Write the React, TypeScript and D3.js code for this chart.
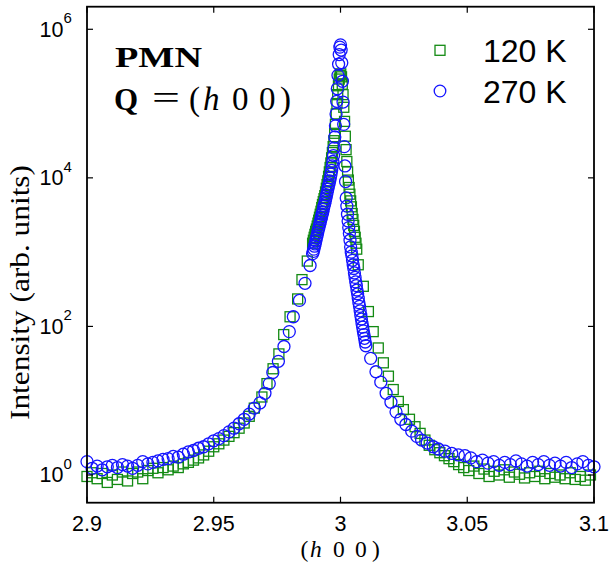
import React from 'react';
import * as d3 from 'd3';

// x tick values / labels
const xTicks = [2.9, 2.95, 3, 3.05, 3.1];
const xTickLabels = ['2.9', '2.95', '3', '3.05', '3.1'];
// y decades shown on the log axis
const yTickExps = [0, 2, 4, 6];
const legendLabels = ['120 K', '270 K'];

// [h, log10(intensity)] — 120 K (green squares)
const data120: [number, number][] = [
  [2.900, -0.02], [2.902, 0.03], [2.904, -0.05], [2.906, 0.02], [2.908, -0.10], [2.910, 0.00],
  [2.912, -0.06], [2.914, 0.04], [2.916, -0.08], [2.918, 0.02], [2.920, 0.04], [2.922, -0.05],
  [2.924, 0.06], [2.926, 0.09], [2.928, 0.03], [2.930, 0.10], [2.932, 0.07], [2.934, 0.12],
  [2.936, 0.10], [2.938, 0.15], [2.940, 0.17], [2.942, 0.20], [2.944, 0.23], [2.946, 0.27],
  [2.948, 0.32], [2.950, 0.38], [2.952, 0.42], [2.954, 0.47], [2.956, 0.52], [2.958, 0.57],
  [2.960, 0.63], [2.962, 0.70], [2.964, 0.79], [2.966, 0.90],
  [2.9690, 1.05], [2.9710, 1.23], [2.9734, 1.43], [2.9757, 1.63], [2.9776, 1.89], [2.9801, 2.13],
  [2.9831, 2.37], [2.9848, 2.63], [2.9869, 2.88],
  [2.9890, 3.12], [2.9893, 3.16], [2.9896, 3.20], [2.9899, 3.24], [2.9902, 3.28], [2.9905, 3.31],
  [2.9908, 3.35], [2.9911, 3.39], [2.9914, 3.43], [2.9917, 3.47], [2.9920, 3.51], [2.9923, 3.55],
  [2.9926, 3.60], [2.9929, 3.64], [2.9932, 3.68], [2.9935, 3.72], [2.9938, 3.76], [2.9941, 3.81],
  [2.9944, 3.86], [2.9947, 3.91], [2.9950, 3.96], [2.9953, 4.02], [2.9956, 4.08], [2.9959, 4.14],
  [2.9962, 4.20], [2.9965, 4.27], [2.9968, 4.34], [2.9971, 4.42], [2.9974, 4.50], [2.9977, 4.60],
  [2.9980, 4.72], [2.9983, 4.86], [2.9986, 5.00], [2.9989, 5.12], [2.9992, 5.24], [2.9995, 5.33],
  [2.9998, 5.38], [3.0001, 5.40], [3.0004, 5.36], [3.0007, 5.26], [3.0010, 5.12], [3.0013, 4.95],
  [3.0016, 4.76], [3.0019, 4.56], [3.0022, 4.38], [3.0025, 4.22], [3.0028, 4.08], [3.0031, 3.97],
  [3.0034, 3.87], [3.0037, 3.78], [3.0040, 3.69], [3.0043, 3.61], [3.0046, 3.52], [3.0049, 3.44],
  [3.0052, 3.36], [3.0055, 3.28], [3.0058, 3.20], [3.0061, 3.12], [3.0064, 3.04],
  [3.0070, 2.83], [3.0090, 2.54], [3.0110, 2.20], [3.0129, 1.93], [3.0149, 1.71], [3.0169, 1.51],
  [3.0189, 1.33], [3.0208, 1.15], [3.0228, 0.99], [3.0248, 0.88], [3.0272, 0.75], [3.0294, 0.65],
  [3.0314, 0.56], [3.0333, 0.47], [3.0350, 0.40], [3.0372, 0.34], [3.0392, 0.30], [3.0410, 0.26],
  [3.0428, 0.22], [3.0447, 0.18], [3.0466, 0.14], [3.0486, 0.10], [3.0506, 0.06], [3.0526, 0.12],
  [3.0546, 0.02], [3.0566, 0.08], [3.0586, -0.02], [3.0606, 0.05], [3.0626, 0.00], [3.0646, 0.07],
  [3.0666, -0.03], [3.0686, 0.04], [3.0706, 0.01], [3.0726, -0.04], [3.0746, 0.03], [3.0766, -0.02],
  [3.0786, 0.05], [3.0806, -0.05], [3.0826, 0.02], [3.0846, -0.03], [3.0866, 0.00], [3.0886, -0.05],
  [3.0906, 0.03], [3.0926, -0.06], [3.0946, -0.02], [3.0966, -0.07], [3.0986, 0.00],
];

// [h, log10(intensity)] — 270 K (blue circles)
const data270: [number, number][] = [
  [2.900, 0.18], [2.902, 0.09], [2.904, 0.12], [2.906, 0.07], [2.908, 0.11], [2.910, 0.13],
  [2.912, 0.10], [2.914, 0.14], [2.916, 0.12], [2.918, 0.09], [2.920, 0.13], [2.922, 0.18],
  [2.924, 0.15], [2.926, 0.17], [2.928, 0.19], [2.930, 0.21], [2.932, 0.22], [2.934, 0.25],
  [2.936, 0.24], [2.938, 0.28], [2.940, 0.31], [2.942, 0.33], [2.944, 0.36], [2.946, 0.38],
  [2.948, 0.42], [2.950, 0.46], [2.952, 0.49], [2.954, 0.53], [2.956, 0.58], [2.958, 0.63],
  [2.960, 0.69], [2.962, 0.75], [2.964, 0.82], [2.966, 0.90],
  [2.9682, 0.97], [2.9702, 1.10], [2.9719, 1.23], [2.9733, 1.38], [2.9755, 1.53], [2.9777, 1.73],
  [2.9798, 1.93], [2.9814, 2.13], [2.9838, 2.35], [2.9860, 2.58], [2.9880, 2.82],
  [2.98900, 2.98], [2.98925, 3.01], [2.98950, 3.04], [2.98975, 3.08], [2.99000, 3.11], [2.99025, 3.15],
  [2.99050, 3.19], [2.99075, 3.22], [2.99100, 3.26], [2.99125, 3.30], [2.99150, 3.33], [2.99175, 3.37],
  [2.99200, 3.40], [2.99225, 3.44], [2.99250, 3.47], [2.99275, 3.51], [2.99300, 3.54], [2.99325, 3.58],
  [2.99350, 3.62], [2.99375, 3.65], [2.99400, 3.69], [2.99425, 3.73], [2.99450, 3.77], [2.99475, 3.81],
  [2.99500, 3.85], [2.99525, 3.89], [2.99550, 3.92], [2.99575, 3.96], [2.99600, 4.00], [2.99625, 4.05],
  [2.99650, 4.10], [2.99675, 4.16], [2.99700, 4.22], [2.99725, 4.30], [2.99750, 4.40], [2.99775, 4.55],
  [2.99800, 4.70], [2.99825, 4.86], [2.99850, 5.03], [2.99875, 5.20], [2.99900, 5.38], [2.99925, 5.53],
  [2.99950, 5.66], [2.99975, 5.76], [3.00000, 5.79], [3.00025, 5.72], [3.00050, 5.55], [3.00075, 5.30],
  [3.00100, 5.02], [3.00125, 4.72], [3.00150, 4.42], [3.00175, 4.16], [3.00200, 3.95],
  [3.00225, 3.73], [3.00250, 3.62], [3.00275, 3.51], [3.00300, 3.42], [3.00325, 3.33], [3.00350, 3.25],
  [3.00375, 3.16], [3.00400, 3.07], [3.00425, 3.00], [3.00450, 2.95], [3.00475, 2.89], [3.00500, 2.83],
  [3.00525, 2.78], [3.00550, 2.72], [3.00575, 2.66], [3.00600, 2.60], [3.00625, 2.55], [3.00650, 2.49],
  [3.00675, 2.44], [3.00700, 2.38], [3.00725, 2.32], [3.00750, 2.27], [3.00775, 2.21], [3.00800, 2.15],
  [3.00825, 2.10], [3.00850, 2.04], [3.00875, 1.99], [3.00900, 1.94], [3.00925, 1.89], [3.00950, 1.84],
  [3.00975, 1.79], [3.01000, 1.74],
  [3.0119, 1.57], [3.0140, 1.39], [3.0159, 1.25], [3.0180, 1.10], [3.0199, 0.98], [3.0219, 0.85],
  [3.0238, 0.75], [3.0258, 0.68], [3.0281, 0.59], [3.0301, 0.52], [3.0320, 0.47], [3.0342, 0.43],
  [3.0366, 0.38], [3.0386, 0.35], [3.0412, 0.32], [3.0439, 0.29], [3.0465, 0.27], [3.0491, 0.26],
  [3.0514, 0.23], [3.0537, 0.18],
  [3.0560, 0.20], [3.0582, 0.16], [3.0604, 0.18], [3.0626, 0.13], [3.0648, 0.17], [3.0670, 0.14],
  [3.0692, 0.19], [3.0714, 0.15], [3.0736, 0.12], [3.0758, 0.17], [3.0780, 0.14], [3.0802, 0.18],
  [3.0824, 0.13], [3.0846, 0.16], [3.0868, 0.12], [3.0890, 0.17], [3.0912, 0.10], [3.0934, 0.15],
  [3.0956, 0.18], [3.0978, 0.13], [3.1000, 0.11],
];

const GREEN = '#138a13';
const BLUE = '#1414ff';

export default function App() {
  const W = 609, H = 568;
  const left = 87, right = 594, top = 6.7, bottom = 502.7;
  const x = d3.scaleLinear().domain([2.9, 3.1]).range([left, right]);
  const y = d3.scaleLog().domain([Math.pow(10, -0.373), Math.pow(10, 6.304)]).range([bottom, top]);
  const sq = 10;
  const r = 6;
  const tickLen = 6;
  const sans = '"Liberation Sans", Arial, sans-serif';
  const serif = '"Liberation Serif", "Times New Roman", serif';

  return (
    <svg width={W} height={H} style={{ position: 'absolute', left: 0, top: 0, background: '#fff' }}>
      <rect x={0} y={0} width={W} height={H} fill="#fff" />
      {/* data */}
      <g fill="none" stroke={GREEN} strokeWidth={1.3}>
        {data120.map(([h, l], i) => (
          <rect key={i} x={x(h) - sq / 2} y={y(Math.pow(10, l)) - sq / 2} width={sq} height={sq} />
        ))}
      </g>
      <g fill="none" stroke={BLUE} strokeWidth={1.3}>
        {data270.map(([h, l], i) => (
          <circle key={i} cx={x(h)} cy={y(Math.pow(10, l))} r={r} />
        ))}
      </g>
      {/* frame */}
      <rect x={left} y={top} width={right - left} height={bottom - top} fill="none" stroke="#000" strokeWidth={1.8} />
      {/* x ticks */}
      {xTicks.map((t, i) => (
        <g key={'xt' + i}>
          <line x1={x(t)} x2={x(t)} y1={bottom} y2={bottom - tickLen} stroke="#000" strokeWidth={1.2} />
          <line x1={x(t)} x2={x(t)} y1={top} y2={top + tickLen} stroke="#000" strokeWidth={1.2} />
          <text x={x(t)} y={531} textAnchor="middle" fontFamily={sans} fontSize={21.5} fill="#000">
            {xTickLabels[i]}
          </text>
        </g>
      ))}
      {/* y ticks */}
      {yTickExps.map((e, i) => {
        const yy = y(Math.pow(10, e));
        return (
          <g key={'yt' + i}>
            <line x1={left} x2={left + tickLen} y1={yy} y2={yy} stroke="#000" strokeWidth={1.2} />
            <line x1={right} x2={right - tickLen} y1={yy} y2={yy} stroke="#000" strokeWidth={1.2} />
            <text x={63.5} y={yy + 7.5} textAnchor="end" fontFamily={sans} fontSize={21.5} fill="#000">10</text>
            <text x={63.5} y={yy - 6} textAnchor="start" fontFamily={sans} fontSize={15} fill="#000">{e}</text>
          </g>
        );
      })}
      {/* axis labels */}
      <text
        transform={`translate(29,292.5) rotate(-90)`}
        textAnchor="middle"
        fontFamily={serif}
        fontSize={28}
        textLength={255}
        lengthAdjust="spacingAndGlyphs"
        fill="#000"
      >
        Intensity (arb. units)
      </text>
      <g fontFamily={serif} fontSize={23.5} fill="#000">
        <text x={300.5} y={557}>(</text>
        <text x={310} y={557} fontStyle="italic">h</text>
        <text x={333} y={557}>0</text>
        <text x={355} y={557}>0</text>
        <text x={372} y={557}>)</text>
      </g>
      {/* annotation */}
      <text x={115} y={66.7} fontFamily={serif} fontSize={30} fontWeight="bold" textLength={87} lengthAdjust="spacingAndGlyphs" fill="#000">
        PMN
      </text>
      <g fontFamily={serif} fontSize={33} fill="#000">
        <text x={114} y={110} fontWeight="bold" fontSize={31}>Q</text>
        <text x={152} y={109} textLength={28} lengthAdjust="spacingAndGlyphs">=</text>
        <text x={189} y={110}>(</text>
        <text x={203} y={110} fontStyle="italic">h</text>
        <text x={232} y={110}>0</text>
        <text x={259} y={110}>0</text>
        <text x={280} y={110}>)</text>
      </g>
      {/* legend */}
      <rect x={440 - 5} y={50.3 - 5} width={10} height={10} fill="none" stroke={GREEN} strokeWidth={1.3} />
      <text x={483} y={62.3} fontFamily={sans} fontSize={32} fill="#000">{legendLabels[0]}</text>
      <circle cx={440} cy={91} r={5.8} fill="none" stroke={BLUE} strokeWidth={1.3} />
      <text x={483} y={102.7} fontFamily={sans} fontSize={32} fill="#000">{legendLabels[1]}</text>
    </svg>
  );
}
